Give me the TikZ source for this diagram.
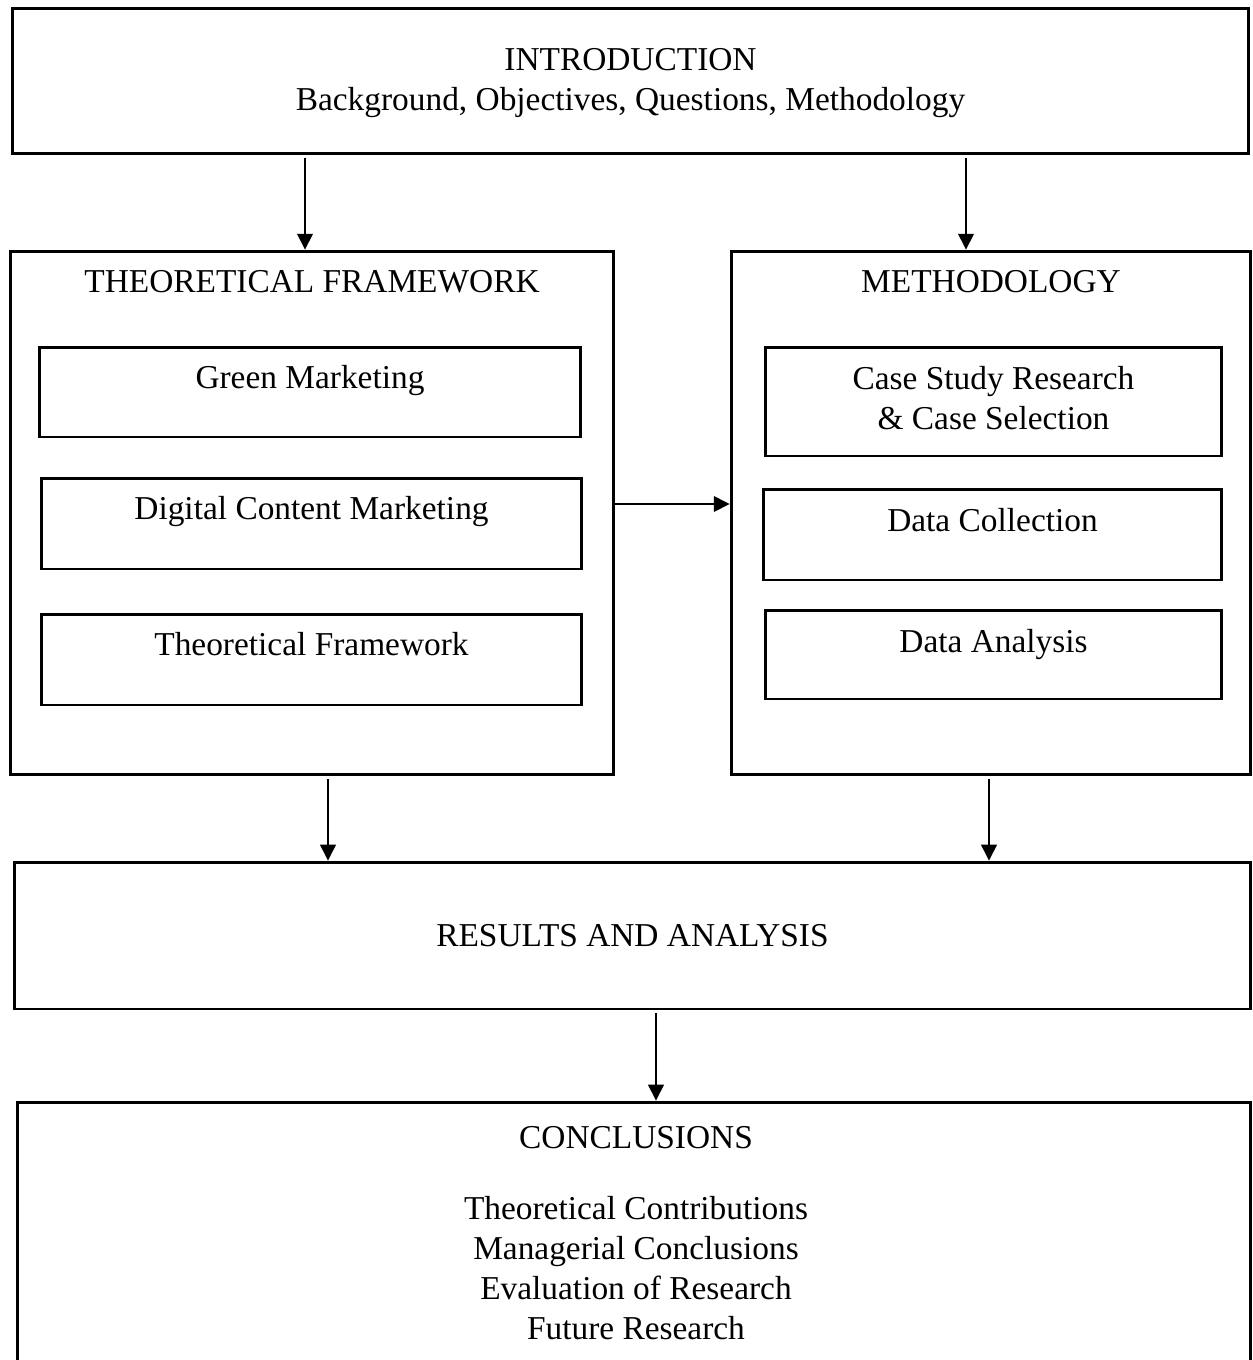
\documentclass[tikz,border=0pt]{standalone}
\usepackage{fontspec}
\setmainfont{Liberation Serif}
\usetikzlibrary{arrows.meta}

\begin{document}
\begin{tikzpicture}[x=0.02cm, y=-0.02cm]
   \tikzstyle{every node}=[font=\fontsize{19}{22.7}\selectfont]
   \tikzstyle{box}=[draw, line width=1.7pt, rectangle, inner sep=0pt]
   \tikzstyle{heading}=[anchor=base, align=center, inner sep=0pt]
   \tikzstyle{arrow}=[-{Triangle[length=9pt, width=9pt]}, line width=0.8pt, shorten <=0.05cm]

\clip (0,0) rectangle (1252,1360);

\node[box, minimum width=24.74cm, minimum height=2.92cm,
    label={[heading, yshift=-2.08cm]north:{INTRODUCTION\\Background, Objectives, Questions, Methodology}}] (intro) at (630.5,81) {};

\node[box, minimum width=12.08cm, minimum height=10.48cm,
    label={[heading, yshift=-0.86cm]north:THEORETICAL FRAMEWORK}] (theory) at (312,513) {};
\node[box, minimum width=10.84cm, minimum height=1.8cm,
    label={[heading, yshift=-0.86cm]north:Green Marketing}] (green) at (310,392) {};
\node[box, minimum width=10.82cm, minimum height=1.82cm,
    label={[heading, yshift=-0.86cm]north:Digital Content Marketing}] (digital) at (311.5,523.5) {};
\node[box, minimum width=10.82cm, minimum height=1.82cm,
    label={[heading, yshift=-0.86cm]north:Theoretical Framework}] (framework) at (311.5,659.5) {};

\node[box, minimum width=10.4cm, minimum height=10.48cm,
    label={[heading, yshift=-0.86cm]north:METHODOLOGY}] (method) at (991,513) {};
\node[box, minimum width=9.14cm, minimum height=2.18cm,
    label={[heading, yshift=-1.68cm]north:{Case Study Research\\\& Case Selection}}] (casestudy) at (993.5,401.5) {};
\node[box, minimum width=9.18cm, minimum height=1.82cm,
    label={[heading, yshift=-0.88cm]north:Data Collection}] (collection) at (992.5,534.5) {};
\node[box, minimum width=9.14cm, minimum height=1.78cm,
    label={[heading, yshift=-0.88cm]north:Data Analysis}] (analysis) at (993.5,654.5) {};

\node[box, minimum width=24.74cm, minimum height=2.94cm] (results) at (632.5,935.5) {RESULTS AND ANALYSIS};

\node[box, minimum width=24.68cm, minimum height=6.36cm,
    label={[heading, xshift=0.04cm, yshift=-4.78cm]north:{CONCLUSIONS\\[18pt]Theoretical Contributions\\Managerial Conclusions\\Evaluation of Research\\Future Research}}] (conclusions) at (634,1261) {};

\coordinate (tin) at ([xshift=-0.14cm]theory.north);
\coordinate (min) at ([xshift=-0.5cm]method.north);
\coordinate (tout) at ([yshift=0.18cm]theory.east);
\coordinate (tdown) at ([xshift=0.32cm]theory.south);
\coordinate (mdown) at ([xshift=-0.04cm]method.south);
\coordinate (rdown) at ([xshift=0.47cm]results.south);

\draw[arrow] (intro.south -| tin) -- (tin);
\draw[arrow] (intro.south -| min) -- (min);
\draw[arrow, shorten <=0pt] (tout) -- (tout -| method.west);
\draw[arrow] (tdown) -- (tdown |- results.north);
\draw[arrow] (mdown) -- (mdown |- results.north);
\draw[arrow] (rdown) -- (rdown |- conclusions.north);

\end{tikzpicture}
\end{document}
